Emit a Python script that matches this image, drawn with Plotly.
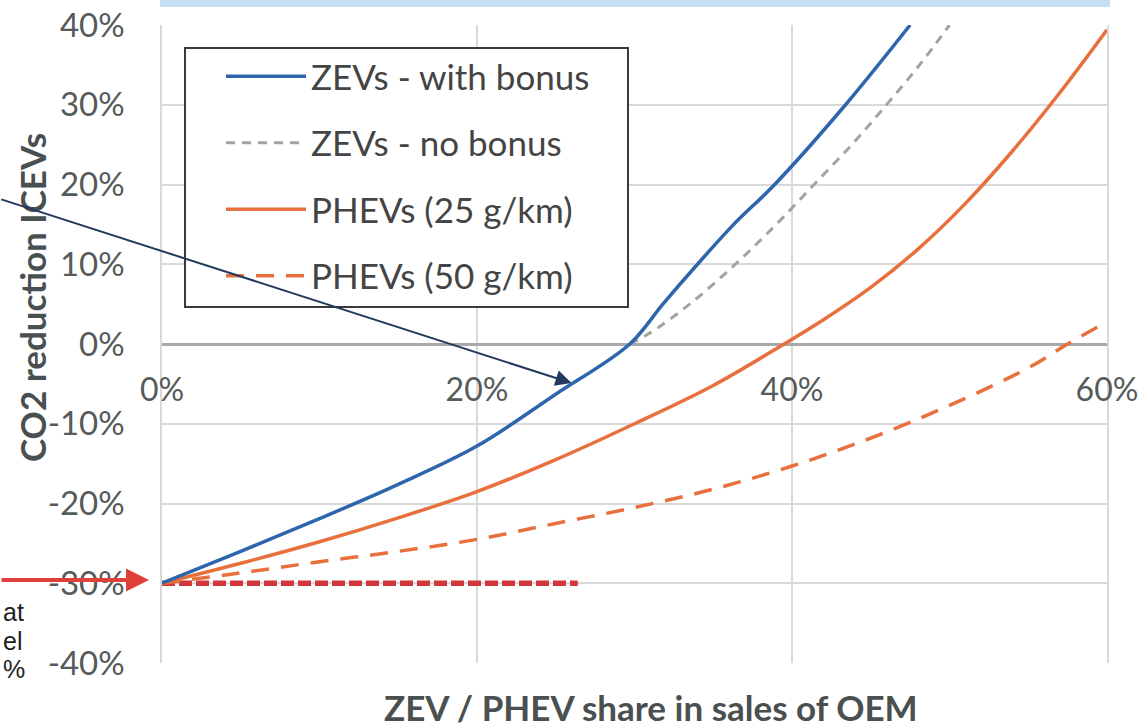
import plotly.graph_objects as go

# ---------------- data (percent units) ----------------
zev_bonus_x = [0, 5, 10, 15, 20, 25, 29.7, 31.8, 34, 36.3, 38.9, 43.4, 47.5]
zev_bonus_y = [-30, -26, -21.9, -17.6, -12.8, -6.3, 0, 5, 10, 15, 20, 30, 40]

zev_nobonus_x = [29.7, 31, 33.5, 36.4, 39, 41.4, 43.8, 46, 48.1, 50]
zev_nobonus_y = [0, 1.4, 5, 10, 15, 20, 25, 30, 35, 40]

phev25_x = [0, 5, 10, 15, 20, 25, 30, 35, 39.5, 42, 45, 48, 51, 54, 57, 60]
phev25_y = [-30, -27.5, -24.8, -21.8, -18.5, -14.5, -10, -5.2, 0, 3.05, 7.1, 11.9, 17.6, 24.2, 31.5, 39.4]

phev50_x = [0, 5, 10, 15, 20, 25, 30, 35, 40, 45, 50, 55, 57.5, 60]
phev50_y = [-30, -28.7, -27.3, -26, -24.5, -22.5, -20.5, -18.2, -15.3, -11.8, -7.7, -3, 0, 2.8]

target_x = [0, 26.4]
target_y = [-30, -30]

x_ticks = [0, 20, 40, 60]
x_ticktext = ["0%", "20%", "40%", "60%"]
y_ticks = [-40, -30, -20, -10, 0, 10, 20, 30, 40]
y_ticktext = ["-40%", "-30%", "-20%", "-10%", "0%", "10%", "20%", "30%", "40%"]

legend_names = ["ZEVs - with bonus", "ZEVs - no bonus", "PHEVs (25 g/km)", "PHEVs (50 g/km)"]
x_title = "ZEV / PHEV share in sales of OEM"
y_title = "CO2 reduction ICEVs"
side_note = ["at", "el", "%"]

# ---------------- layout geometry ----------------
W, H = 1146, 728
L, R, T, B = 162, 1107, 25, 663   # plot area in pixels


def px_x(p):
    return (p - L) / (R - L)


def px_y(p):
    return (B - p) / (B - T)


BLUE = "#2f65ad"
GRAY = "#a3a3a3"
ORANGE = "#e8703c"
RED = "#d2383a"
NAVY = "#233a5e"
TXT = "#555a5a"
FONT = "Lato, 'Open Sans', sans-serif"

fig = go.Figure()

fig.add_trace(go.Scatter(x=target_x, y=target_y, mode="lines", showlegend=False,
                         line=dict(color=RED, width=5.5, dash="13px,4px"), hoverinfo="skip"))

fig.add_trace(go.Scatter(x=zev_nobonus_x, y=zev_nobonus_y, mode="lines", name=legend_names[1],
                         legendgroup="b", legendrank=2,
                         line=dict(color=GRAY, width=3, dash="9px,7px", shape="spline", smoothing=1)))
fig.add_trace(go.Scatter(x=phev50_x, y=phev50_y, mode="lines", name=legend_names[3],
                         legendgroup="d", legendrank=4,
                         line=dict(color=ORANGE, width=3.5, dash="18px,12px", shape="spline", smoothing=1)))
fig.add_trace(go.Scatter(x=phev25_x, y=phev25_y, mode="lines", name=legend_names[2],
                         legendgroup="c", legendrank=3,
                         line=dict(color=ORANGE, width=3.5, shape="spline", smoothing=1)))
fig.add_trace(go.Scatter(x=zev_bonus_x, y=zev_bonus_y, mode="lines", name=legend_names[0],
                         legendgroup="a", legendrank=1,
                         line=dict(color=BLUE, width=3.5, shape="spline", smoothing=1)))

fig.update_layout(
    width=W, height=H,
    margin=dict(l=L, r=W - R, t=T, b=H - B, pad=0, autoexpand=False),
    paper_bgcolor="white", plot_bgcolor="white",
    font=dict(family=FONT, color=TXT),
    showlegend=True,
    legend=dict(x=px_x(221), y=px_y(47), xanchor="left", yanchor="top",
                bgcolor="rgba(0,0,0,0)", borderwidth=0,
                font=dict(size=35, color="#444444", family=FONT),
                itemwidth=80, tracegroupgap=18, traceorder="grouped",
                itemclick=False, itemdoubleclick=False),
    xaxis=dict(range=[0, 60], tickmode="array", tickvals=x_ticks, ticktext=x_ticktext,
               showgrid=True, gridcolor="#d9d9d9", gridwidth=1.5,
               zeroline=False, showline=False, automargin=False,
               anchor="free", position=0.5,
               ticks="", ticklabelstandoff=24,
               tickfont=dict(size=32, color=TXT)),
    yaxis=dict(range=[-40, 40], tickmode="array", tickvals=y_ticks, ticktext=y_ticktext,
               showgrid=True, gridcolor="#d9d9d9", gridwidth=1.5,
               zeroline=True, zerolinecolor="#a9a9a9", zerolinewidth=2.5,
               showline=True, linecolor="#d9d9d9", linewidth=1.5, mirror=True,
               automargin=False,
               ticks="", ticklabelstandoff=29,
               tickfont=dict(size=33, color=TXT)),
)

# legend frame (drawn box, real legend entries sit on it)
fig.add_shape(type="rect", xref="paper", yref="paper",
              x0=px_x(185), x1=px_x(628), y0=px_y(307), y1=px_y(48),
              fillcolor="white", line=dict(color="#3a3a3a", width=2), layer="above")

# light blue band at the top
fig.add_shape(type="rect", xref="paper", yref="paper",
              x0=px_x(160), x1=px_x(1110), y0=px_y(7), y1=px_y(0),
              fillcolor="#c3dff0", line=dict(width=0), layer="above")

# axis titles
fig.add_annotation(x=px_x(651), y=px_y(707), xref="paper", yref="paper",
                   text="<b>" + x_title + "</b>", showarrow=False,
                   xanchor="center", yanchor="middle",
                   font=dict(size=35, color="#4a4f4f", family=FONT))
fig.add_annotation(x=px_x(32), y=px_y(298), xref="paper", yref="paper",
                   text="<b>" + y_title + "</b>", showarrow=False, textangle=-90,
                   xanchor="center", yanchor="middle",
                   font=dict(size=35, color="#4a4f4f", family=FONT))

# navy arrow pointing to the ZEV curve
fig.add_annotation(x=26.0, y=-4.9, ax=-10.3, ay=18.2, xref="x", yref="y", axref="x", ayref="y",
                   text="", showarrow=True, arrowhead=2, arrowsize=1.6, arrowwidth=2,
                   arrowcolor=NAVY)
# red arrow to the -30% start point
fig.add_annotation(x=px_x(149), y=px_y(580), xref="paper", yref="paper",
                   ax=-150, ay=0, axref="pixel", ayref="pixel",
                   text="", showarrow=True, arrowhead=2, arrowsize=1.15, arrowwidth=4,
                   arrowcolor="#e0403a")

# note text at the left edge (cut in the source)
for txt, yy in zip(side_note, [612, 641, 669]):
    fig.add_annotation(x=px_x(1), y=px_y(yy), xref="paper", yref="paper", text=txt,
                       showarrow=False, xanchor="left", yanchor="middle",
                       font=dict(size=25, color="#222222", family="Liberation Sans, Arial"))

fig.write_html("out.html", config={"displayModeBar": False},
               post_script="document.body.style.margin='0';")
